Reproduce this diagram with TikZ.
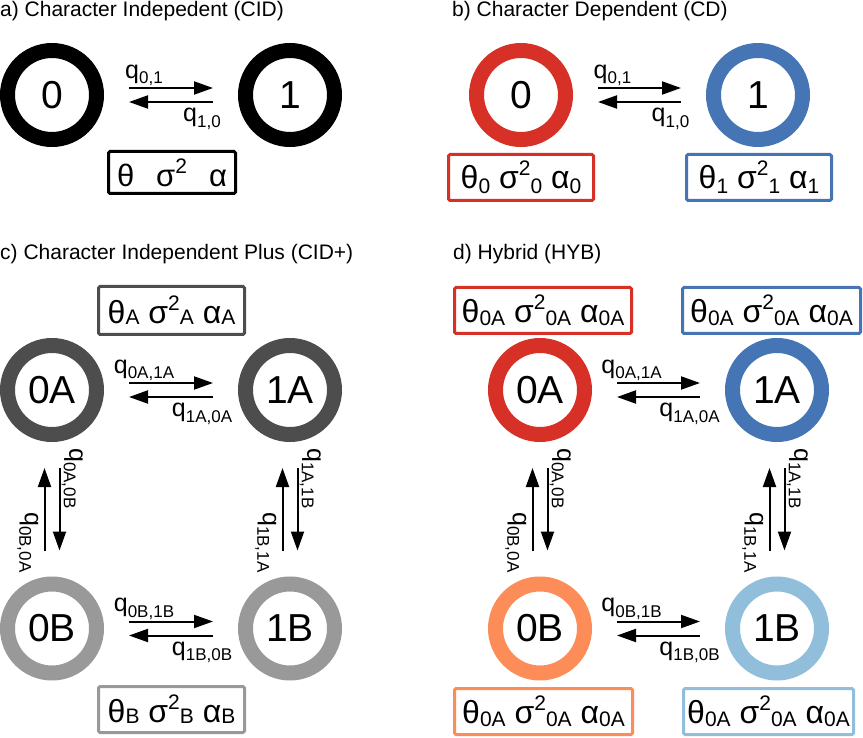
\documentclass[tikz,border=0pt]{standalone}
\usepackage{fontspec}
\setmainfont{Liberation Sans}
\usetikzlibrary{arrows.meta,calc}
\definecolor{cred}{HTML}{D73027}
\definecolor{cblue}{HTML}{4575B4}
\definecolor{corange}{HTML}{FC8D59}
\definecolor{clblue}{HTML}{91BFDB}
\definecolor{cdgray}{HTML}{4D4D4D}
\definecolor{clgray}{HTML}{999999}
\newcommand\ql[1]{q\raisebox{-5.5pt}{\fontsize{17}{17}\selectfont #1}}
\newcommand\bs[2][-3pt]{\raisebox{#1}{\fontsize{21}{21}\selectfont #2}}
\newcommand\bsup{\raisebox{13pt}{\fontsize{21}{21}\selectfont 2}}
\tikzset{
  state/.style={circle, line width=15pt, minimum size=89pt, inner sep=0pt,
    font=\fontsize{39}{39}\selectfont},
  pbox/.style={draw, line width=3pt, rounded corners=1.5pt, inner sep=0pt,
    minimum height=46pt, font=\fontsize{32}{32}\selectfont},
  arr/.style={-{Triangle[length=19pt,width=13pt]}, line width=2pt},
  qlab/.style={inner sep=0pt, font=\fontsize{25}{25}\selectfont},
  ttl/.style={anchor=base west, inner sep=0pt, font=\fontsize{21}{21}\selectfont}
}
\newcommand\hpair[4]{%
  \draw[arr, shorten <=25pt, shorten >=25pt] ([yshift=7pt]#1.east) -- ([yshift=7pt]#2.west);
  \draw[arr, shorten <=25pt, shorten >=25pt] ([yshift=-7pt]#2.west) -- ([yshift=-7pt]#1.east);
  \node[qlab, anchor=south] (#1#2t) at ($(#1)!0.5!(#2)+(-27pt,9pt)$) {#3};
  \node[qlab, anchor=north] (#1#2b) at ($(#1)!0.5!(#2)+(31pt,-13pt)$) {#4};
}
\newcommand\vpair[4]{%
  \draw[arr, shorten <=26pt, shorten >=26pt] ([xshift=7.5pt]#1.south) -- ([xshift=7.5pt]#2.north);
  \draw[arr, shorten <=26pt, shorten >=26pt] ([xshift=-7.5pt]#2.north) -- ([xshift=-7.5pt]#1.south);
  \node[qlab, rotate=-90, anchor=south] (#1#2t) at ($(#1)!0.5!(#2)+(9.5pt,31pt)$) {#3};
  \node[qlab, rotate=-90, anchor=north] (#1#2b) at ($(#1)!0.5!(#2)+(-13.5pt,-33pt)$) {#4};
}
\begin{document}
\begin{tikzpicture}[x=1pt,y=-1pt]
\useasboundingbox (0,0) rectangle (863,738);
% titles
\node[ttl] (ta) at (0,17) {a) Character Indepedent (CID)};
\node[ttl] (tb) at (452,17) {b) Character Dependent (CD)};
\node[ttl] (tc) at (0,260) {c) Character Independent Plus (CID+)};
\node[ttl] (td) at (453,260) {d) Hybrid (HYB)};
% panel a
\node[state, draw=black] (A0) at (52,95) {0};
\node[state, draw=black] (A1) at (290,95) {1};
\hpair{A0}{A1}{\ql{0,1}}{\ql{1,0}}
\node[pbox, draw=black, minimum width=127pt, minimum height=42pt, font=\fontsize{31}{31}\selectfont] (Abox) at (172,172.5)
  {θ\hspace{22pt}σ\bsup\hspace{22pt}α};
% panel b
\node[state, draw=cred] (B0) at (521,95) {0};
\node[state, draw=cblue] (B1) at (758,95) {1};
\hpair{B0}{B1}{\ql{0,1}}{\ql{1,0}}
\node[pbox, draw=cred, minimum width=145pt] (Bbox0) at (521,177.5)
  {θ\bs[-5pt]{0} σ\bsup\bs[-5pt]{0} α\bs[-5pt]{0}};
\node[pbox, draw=cblue, minimum width=145pt] (Bbox1) at (759,177.5)
  {θ\bs[-5pt]{1} σ\bsup\bs[-5pt]{1} α\bs[-5pt]{1}};
% panel c
\node[state, draw=cdgray] (C0A) at (52,390) {0A};
\node[state, draw=cdgray] (C1A) at (290,390) {1A};
\node[state, draw=clgray] (C0B) at (52,628.5) {0B};
\node[state, draw=clgray] (C1B) at (290,628.5) {1B};
\hpair{C0A}{C1A}{\ql{0A,1A}}{\ql{1A,0A}}
\hpair{C0B}{C1B}{\ql{0B,1B}}{\ql{1B,0B}}
\vpair{C0A}{C0B}{\ql{0A,0B}}{\ql{0B,0A}}
\vpair{C1A}{C1B}{\ql{1A,1B}}{\ql{1B,1A}}
\node[pbox, draw=cdgray, minimum width=146pt, minimum height=48pt] (CboxA) at (171.5,310.5)
  {θ\bs[-1pt]{A} σ\bsup\bs[-1pt]{A} α\bs[-1pt]{A}};
\node[pbox, draw=clgray, minimum width=146pt] (CboxB) at (171.5,709.5)
  {θ\bs[-1pt]{B} σ\bsup\bs[-1pt]{B} α\bs[-1pt]{B}};
% panel d
\node[state, draw=cred] (D0A) at (540,390) {0A};
\node[state, draw=cblue] (D1A) at (777,390) {1A};
\node[state, draw=corange] (D0B) at (540,628.5) {0B};
\node[state, draw=clblue] (D1B) at (777,628.5) {1B};
\hpair{D0A}{D1A}{\ql{0A,1A}}{\ql{1A,0A}}
\hpair{D0B}{D1B}{\ql{0B,1B}}{\ql{1B,0B}}
\vpair{D0A}{D0B}{\ql{0A,0B}}{\ql{0B,0A}}
\vpair{D1A}{D1B}{\ql{1A,1B}}{\ql{1B,1A}}
\node[pbox, draw=cred, minimum width=177pt] (DboxR) at (543,310.5)
  {θ\bs{0A} σ\bsup\bs{0A} α\bs{0A}};
\node[pbox, draw=cblue, minimum width=178pt] (DboxB) at (771.5,310.5)
  {θ\bs{0A} σ\bsup\bs{0A} α\bs{0A}};
\node[pbox, draw=corange, minimum width=178pt] (DboxO) at (543.5,711.5)
  {θ\bs{0A} σ\bsup\bs{0A} α\bs{0A}};
\node[pbox, draw=clblue, minimum width=170pt] (DboxL) at (768.5,711.5)
  {θ\bs{0A} σ\bsup\bs{0A} α\bs{0A}};
\end{tikzpicture}
\end{document}
